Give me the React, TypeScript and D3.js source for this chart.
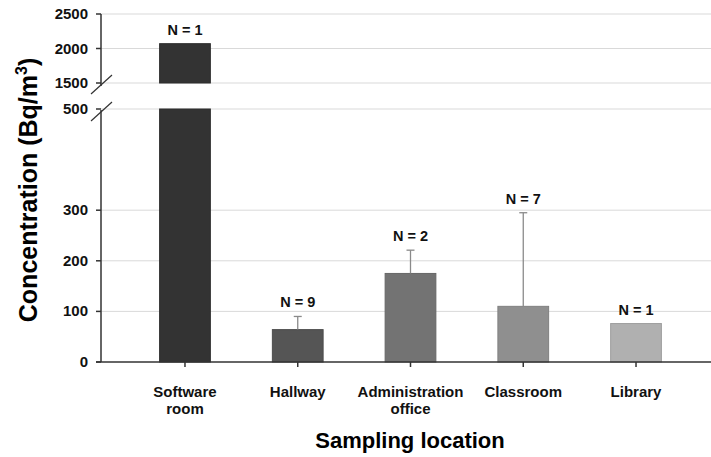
import { scaleLinear, scaleBand, color } from 'd3';

const locations = ['Software\nroom', 'Hallway', 'Administration\noffice', 'Classroom', 'Library'];
const means = [2070, 64, 175, 110, 76];
const errors = [0, 26, 46, 185, 0];
const counts = [1, 9, 2, 7, 1];
const fills = ['#333333', '#555555', '#737373', '#8f8f8f', '#b0b0b0'];
const lowTicks = [0, 100, 200, 300, 500];
const highTicks = [1500, 2000, 2500];

const font = 'Arial, "Liberation Sans", sans-serif';

const App = () => {
  const left = 101;
  const right = 711;
  const base = 362;
  const yLow = scaleLinear().domain([0, 500]).range([base, 109]);
  const yHigh = scaleLinear().domain([1500, 2500]).range([83, 14]);
  const x = scaleBand().domain(locations).range([128.6, 692.4]).paddingInner(0.55).paddingOuter(0.275);

  const yOf = (v: number) => (v > 500 ? yHigh(v) : yLow(v));

  return (
    <svg width={711} height={457} style={{ position: 'absolute', left: 0, top: 0, background: '#fff' }}>
      {/* grid */}
      {[...lowTicks.filter((t) => t > 0).map(yLow), ...highTicks.map(yHigh)].map((y, i) => (
        <line key={'g' + i} x1={left} x2={right} y1={y} y2={y} stroke="#d9d9d9" strokeWidth={1} />
      ))}

      {/* bars */}
      {means.map((v, i) => {
        const bx = x(locations[i])!;
        const w = x.bandwidth();
        const stroke = color(fills[i])!.darker(0.3).toString();
        if (v > 500) {
          return (
            <g key={'b' + i}>
              <rect x={bx} y={yLow(500)} width={w} height={base - yLow(500)} fill={fills[i]} stroke={stroke} />
              <rect x={bx} y={yHigh(v)} width={w} height={yHigh(1500) - yHigh(v)} fill={fills[i]} stroke={stroke} />
            </g>
          );
        }
        return <rect key={'b' + i} x={bx} y={yLow(v)} width={w} height={base - yLow(v)} fill={fills[i]} stroke={stroke} />;
      })}

      {/* error bars */}
      {means.map((v, i) => {
        if (!errors[i]) return null;
        const cx = x(locations[i])! + x.bandwidth() / 2;
        const top = yLow(v + errors[i]);
        return (
          <g key={'e' + i} stroke="#8a8a8a" strokeWidth={1.3}>
            <line x1={cx} x2={cx} y1={yLow(v)} y2={top} />
            <line x1={cx - 4} x2={cx + 4} y1={top} y2={top} />
          </g>
        );
      })}

      {/* N labels */}
      {means.map((v, i) => {
        const cx = x(locations[i])! + x.bandwidth() / 2;
        const top = yOf(v + errors[i]);
        return (
          <text key={'n' + i} x={cx} y={top - 9} textAnchor="middle" fontFamily={font} fontWeight="bold" fontSize={14.5} fill="#111">
            N = {counts[i]}
          </text>
        );
      })}

      {/* y axis */}
      <g stroke="#333" strokeWidth={1.5}>
        <line x1={left} x2={left} y1={yHigh(2500)} y2={86} />
        <line x1={left} x2={left} y1={110} y2={base} />
        <line x1={91} x2={112} y1={94} y2={75} strokeWidth={1.2} />
        <line x1={91} x2={112} y1={121} y2={102} strokeWidth={1.2} />
        {[...lowTicks.map(yLow), ...highTicks.map(yHigh)].map((y, i) => (
          <line key={'yt' + i} x1={left - 5} x2={left} y1={y} y2={y} />
        ))}
      </g>
      {lowTicks.map((t) => (
        <text key={'yl' + t} x={88} y={yLow(t) + 5} textAnchor="end" fontFamily={font} fontWeight="bold" fontSize={15} fill="#111">
          {t}
        </text>
      ))}
      {highTicks.map((t) => (
        <text key={'yh' + t} x={88} y={yHigh(t) + 5} textAnchor="end" fontFamily={font} fontWeight="bold" fontSize={15} fill="#111">
          {t}
        </text>
      ))}

      {/* x axis */}
      <g stroke="#333" strokeWidth={1.5}>
        <line x1={left - 5} x2={right} y1={base} y2={base} />
        {locations.map((c) => {
          const cx = x(c)! + x.bandwidth() / 2;
          return <line key={'xt' + c} x1={cx} x2={cx} y1={base} y2={base + 5} />;
        })}
      </g>
      {locations.map((c) => {
        const cx = x(c)! + x.bandwidth() / 2;
        return (
          <text key={'xl' + c} x={cx} y={397} textAnchor="middle" fontFamily={font} fontWeight="bold" fontSize={15} fill="#111">
            {c.split('\n').map((line, j) => (
              <tspan key={j} x={cx} dy={j === 0 ? 0 : 17}>
                {line}
              </tspan>
            ))}
          </text>
        );
      })}

      {/* titles */}
      <text x={410} y={448} textAnchor="middle" fontFamily={font} fontWeight="bold" fontSize={22} fill="#000">
        Sampling location
      </text>
      <text
        transform="translate(37,190) rotate(-90)"
        textAnchor="middle"
        fontFamily={font}
        fontWeight="bold"
        fontSize={25}
        fill="#000"
      >
        Concentration (Bq/m
        <tspan dy={-10} fontSize={16}>3</tspan>
        <tspan dy={10}>)</tspan>
      </text>
    </svg>
  );
};

export default App;
